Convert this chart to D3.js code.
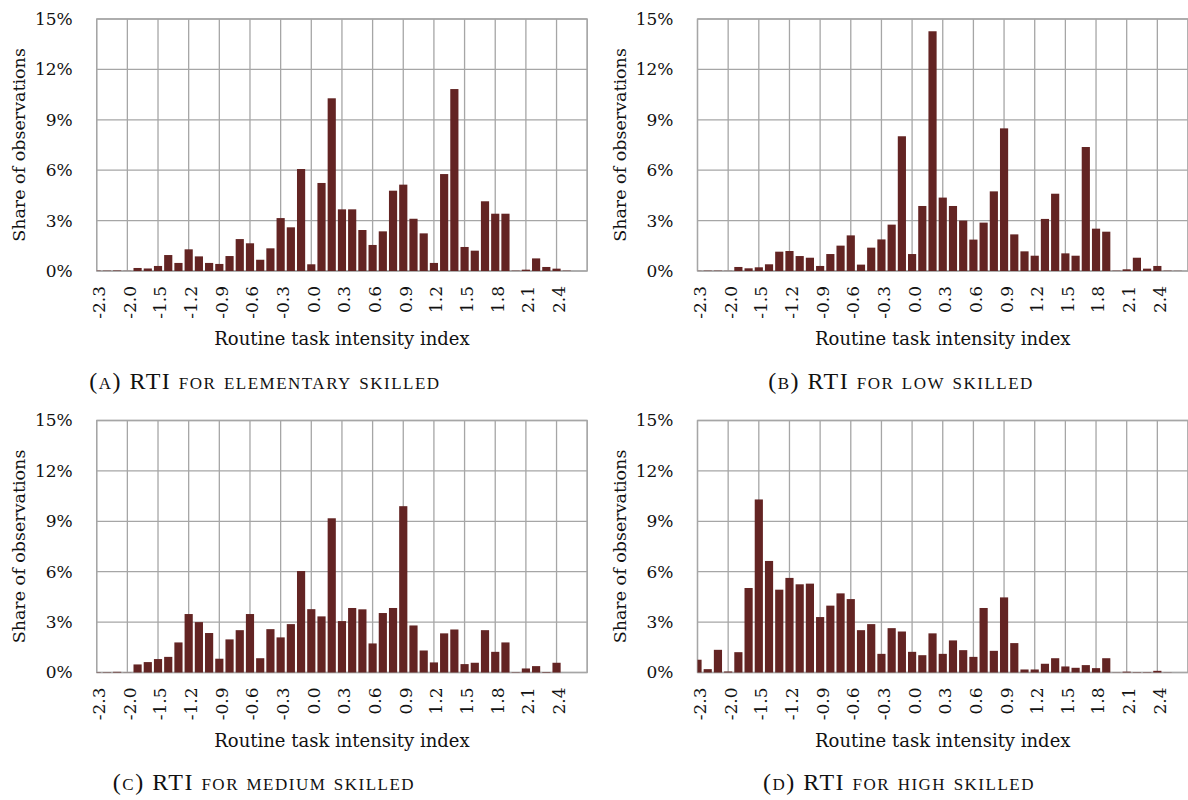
<!DOCTYPE html>
<html>
<head>
<meta charset="utf-8">
<script src="https://cdn.jsdelivr.net/npm/d3@7"></script>
<style>
  html, body { margin: 0; padding: 0; background: #fff; }
  svg { display: block; }
</style>
</head>
<body>
<svg id="chart" width="1188" height="800"></svg>
<script>
// ---- DATA ----
const categories = ["-2.3","-2.2","-2.1","-2.0","-1.8","-1.6","-1.5","-1.4","-1.3","-1.2","-1.1","-1.0",
  "-0.9","-0.8","-0.7","-0.6","-0.5","-0.4","-0.3","-0.2","-0.1","0.0","0.1","0.2","0.3","0.4","0.5",
  "0.6","0.7","0.8","0.9","1.0","1.1","1.2","1.3","1.4","1.5","1.6","1.7","1.8","1.9","2.0","2.1",
  "2.2","2.3","2.4","2.5","2.6","2.7"];
const tickLabels = ["-2.3","-2.0","-1.5","-1.2","-0.9","-0.6","-0.3","0.0","0.3","0.6","0.9","1.2","1.5","1.8","2.1","2.4"];
const yTicks = [0, 3, 6, 9, 12, 15];

// share of observations (%)
const elementary = [0.02,0.02,0.03,0.01,0.18,0.15,0.3,0.95,0.48,1.29,0.87,0.48,0.42,0.89,1.9,1.65,0.67,1.35,3.15,2.6,
  6.07,0.4,5.24,10.28,3.67,3.67,2.44,1.55,2.36,4.78,5.14,3.11,2.24,0.48,5.77,10.83,1.43,1.21,4.15,3.41,3.41,0.02,0.08,0.75,0.24,0.14,0.02,0,0];
const low = [0.01,0.02,0.02,0.01,0.24,0.16,0.22,0.4,1.15,1.19,0.89,0.79,0.3,1.01,1.51,2.12,0.38,1.39,1.88,2.76,
  8.02,1.01,3.87,14.27,4.37,3.87,3.0,1.87,2.88,4.74,8.49,2.18,1.17,0.91,3.1,4.6,1.05,0.91,7.38,2.52,2.34,0.02,0.1,0.79,0.14,0.3,0.02,0.01,0];
const medium = [0.02,0.02,0.04,0.01,0.48,0.62,0.8,0.93,1.79,3.48,3.0,2.35,0.82,1.97,2.52,3.48,0.85,2.58,2.09,2.88,
  6.04,3.77,3.34,9.18,3.06,3.84,3.76,1.73,3.54,3.84,9.9,2.8,1.31,0.6,2.33,2.56,0.5,0.58,2.52,1.23,1.79,0.02,0.24,0.38,0.03,0.58,0,0,0];
const high = [0.76,0.2,1.35,0.06,1.21,5.03,10.3,6.64,4.93,5.63,5.25,5.29,3.3,3.98,4.71,4.37,2.52,2.88,1.11,2.64,
  2.44,1.23,1.03,2.33,1.11,1.91,1.33,0.93,3.84,1.29,4.47,1.75,0.18,0.18,0.52,0.85,0.36,0.28,0.44,0.26,0.85,0.01,0.05,0.02,0.02,0.1,0.01,0,0];

const captions = ["(a) RTI for elementary skilled", "(b) RTI for low skilled", "(c) RTI for medium skilled", "(d) RTI for high skilled"];
const seriesList = [elementary, low, medium, high];
const yTitle = "Share of observations";
const xTitle = "Routine task intensity index";

// ---- LAYOUT ----
const panels = [
  { left: 96.7, top: 19, capX: 265, capY: 389 },
  { left: 697.5, top: 19, capX: 901, capY: 389 },
  { left: 96.7, top: 420.5, capX: 264, capY: 790 },
  { left: 697.5, top: 420.5, capX: 899, capY: 790 }
];
const W = 490.5, H = 252;
const barColor = "#632423";
const gridColor = "#a6a6a6";
const fontAxis = "DejaVu Serif";
const fontCap = "Liberation Serif";
const capSize = 24, smallCapSize = 17;

const svg = d3.select("#chart");
const defs = svg.append("defs");

// split caption into runs: lowercase letters -> uppercase at smaller size (small caps)
function smallCapRuns(s) {
  const runs = [];
  for (const ch of s) {
    const small = ch !== ch.toUpperCase();
    const last = runs[runs.length - 1];
    if (last && last.small === small) last.t += small ? ch.toUpperCase() : ch;
    else runs.push({ small, t: small ? ch.toUpperCase() : ch });
  }
  return runs;
}

panels.forEach((p, k) => {
  const data = seriesList[k];
  const g = svg.append("g").attr("transform", `translate(${p.left},${p.top})`);

  const x = d3.scalePoint().domain(categories).range([0, W]).padding(0);
  const y = d3.scaleLinear().domain([0, 15]).range([H, 0]);
  const bw = x.step() * 0.8;

  defs.append("clipPath").attr("id", "clip" + k)
    .append("rect").attr("x", 0).attr("y", -2).attr("width", W).attr("height", H + 4);

  // horizontal gridlines
  g.append("g").selectAll("line").data(yTicks).join("line")
    .attr("x1", 0).attr("x2", W)
    .attr("y1", d => y(d)).attr("y2", d => y(d))
    .attr("stroke", gridColor).attr("stroke-width", 1.3);

  // vertical gridlines (every third category)
  const vgrid = categories.filter((c, i) => i % 3 === 0);
  g.append("g").selectAll("line").data(vgrid).join("line")
    .attr("x1", d => x(d)).attr("x2", d => x(d))
    .attr("y1", 0).attr("y2", H)
    .attr("stroke", gridColor).attr("stroke-width", 1.3);

  // border
  g.append("rect").attr("x", 0).attr("y", 0).attr("width", W).attr("height", H)
    .attr("fill", "none").attr("stroke", gridColor).attr("stroke-width", 1.3);

  // bars
  g.append("g").attr("clip-path", `url(#clip${k})`)
    .selectAll("rect").data(categories.map((c, i) => ({ c, v: data[i] }))).join("rect")
    .attr("x", d => x(d.c) - bw / 2)
    .attr("width", bw)
    .attr("y", d => y(d.v))
    .attr("height", d => H - y(d.v))
    .attr("fill", barColor);

  // y axis
  const ya = g.append("g").call(d3.axisLeft(y).tickValues(yTicks).tickSize(0).tickPadding(24).tickFormat(d => d + "%"));
  ya.select(".domain").remove();
  ya.selectAll("text").attr("font-family", fontAxis).attr("font-size", 17).attr("fill", "#111");

  // x axis
  const xa = g.append("g").attr("transform", `translate(0,${H})`)
    .call(d3.axisBottom(x).tickValues(tickLabels).tickSize(0));
  xa.select(".domain").remove();
  xa.selectAll("text")
    .attr("font-family", fontAxis).attr("font-size", 17).attr("fill", "#111")
    .attr("text-anchor", "end")
    .attr("transform", "rotate(-90)")
    .attr("x", -15).attr("y", 2).attr("dy", "0.35em");

  // axis titles
  g.append("text")
    .attr("transform", `translate(${-72},${H / 2}) rotate(-90)`)
    .attr("text-anchor", "middle")
    .attr("font-family", fontAxis).attr("font-size", 17.5).attr("fill", "#111")
    .text(yTitle);
  g.append("text")
    .attr("x", W / 2).attr("y", H + 74)
    .attr("text-anchor", "middle")
    .attr("font-family", fontAxis).attr("font-size", 18).attr("fill", "#111")
    .text(xTitle);

  // caption (manual small caps)
  const cap = svg.append("text")
    .attr("x", p.capX).attr("y", p.capY)
    .attr("text-anchor", "middle")
    .attr("font-family", fontCap).attr("fill", "#111")
    .style("letter-spacing", "1.5px");
  smallCapRuns(captions[k]).forEach(r => {
    cap.append("tspan").attr("font-size", r.small ? smallCapSize : capSize).text(r.t);
  });
});
</script>
</body>
</html>
